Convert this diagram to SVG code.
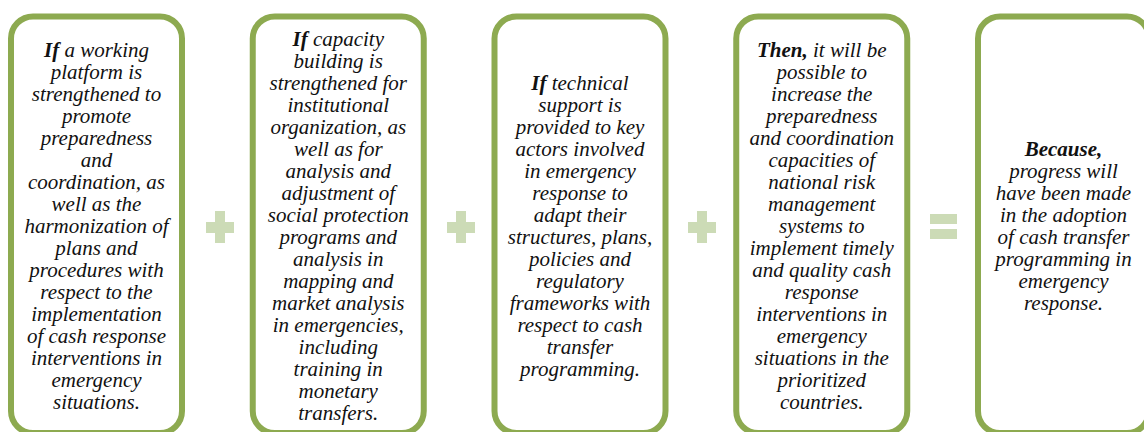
<svg xmlns="http://www.w3.org/2000/svg" width="1144" height="432" viewBox="0 0 1144 432">
<style>
.box{fill:#fff;stroke:#8DAA50;stroke-width:6}
.sign{fill:#CCDBB6}
</style>
<rect width="1144" height="432" fill="#fff"/>
<g id="connectors">
  <g id="plus1" class="sign"><rect x="206" y="222" width="28" height="11"/><rect x="215" y="211" width="10" height="32"/></g>
  <g id="plus2" class="sign"><rect x="447" y="222" width="28" height="11"/><rect x="456" y="211" width="10" height="32"/></g>
  <g id="plus3" class="sign"><rect x="688" y="222" width="28" height="11"/><rect x="697" y="211" width="10" height="32"/></g>
  <g id="equals" class="sign"><rect x="930" y="214" width="27" height="10"/><rect x="930" y="229" width="27" height="10"/></g>
</g>
<g id="node1">
  <rect class="box" x="11" y="16.5" width="171" height="416.5" rx="22"/>
  <text font-family="Liberation Serif" font-style="italic" font-size="21" fill="#111" text-anchor="middle" x="96.5" y="57"><tspan font-weight="bold">If</tspan> a working<tspan x="96.5" dy="22">platform is</tspan><tspan x="96.5" dy="22">strengthened to</tspan><tspan x="96.5" dy="22">promote</tspan><tspan x="96.5" dy="22">preparedness</tspan><tspan x="96.5" dy="22">and</tspan><tspan x="96.5" dy="22">coordination, as</tspan><tspan x="96.5" dy="22">well as the</tspan><tspan x="96.5" dy="22">harmonization of</tspan><tspan x="96.5" dy="22">plans and</tspan><tspan x="96.5" dy="22">procedures with</tspan><tspan x="96.5" dy="22">respect to the</tspan><tspan x="96.5" dy="22">implementation</tspan><tspan x="96.5" dy="22">of cash response</tspan><tspan x="96.5" dy="22">interventions in</tspan><tspan x="96.5" dy="22">emergency</tspan><tspan x="96.5" dy="22">situations.</tspan></text>
</g>
<g id="node2">
  <rect class="box" x="252.75" y="16.5" width="171" height="416.5" rx="22"/>
  <text font-family="Liberation Serif" font-style="italic" font-size="21" fill="#111" text-anchor="middle" x="338.25" y="46"><tspan font-weight="bold">If</tspan> capacity<tspan x="338.25" dy="22">building is</tspan><tspan x="338.25" dy="22">strengthened for</tspan><tspan x="338.25" dy="22">institutional</tspan><tspan x="338.25" dy="22">organization, as</tspan><tspan x="338.25" dy="22">well as for</tspan><tspan x="338.25" dy="22">analysis and</tspan><tspan x="338.25" dy="22">adjustment of</tspan><tspan x="338.25" dy="22">social protection</tspan><tspan x="338.25" dy="22">programs and</tspan><tspan x="338.25" dy="22">analysis in</tspan><tspan x="338.25" dy="22">mapping and</tspan><tspan x="338.25" dy="22">market analysis</tspan><tspan x="338.25" dy="22">in emergencies,</tspan><tspan x="338.25" dy="22">including</tspan><tspan x="338.25" dy="22">training in</tspan><tspan x="338.25" dy="22">monetary</tspan><tspan x="338.25" dy="22">transfers.</tspan></text>
</g>
<g id="node3">
  <rect class="box" x="494.5" y="16.5" width="171" height="416.5" rx="22"/>
  <text font-family="Liberation Serif" font-style="italic" font-size="21" fill="#111" text-anchor="middle" x="580" y="90"><tspan font-weight="bold">If</tspan> technical<tspan x="580" dy="22">support is</tspan><tspan x="580" dy="22">provided to key</tspan><tspan x="580" dy="22">actors involved</tspan><tspan x="580" dy="22">in emergency</tspan><tspan x="580" dy="22">response to</tspan><tspan x="580" dy="22">adapt their</tspan><tspan x="580" dy="22">structures, plans,</tspan><tspan x="580" dy="22">policies and</tspan><tspan x="580" dy="22">regulatory</tspan><tspan x="580" dy="22">frameworks with</tspan><tspan x="580" dy="22">respect to cash</tspan><tspan x="580" dy="22">transfer</tspan><tspan x="580" dy="22">programming.</tspan></text>
</g>
<g id="node4">
  <rect class="box" x="736.25" y="16.5" width="171" height="416.5" rx="22"/>
  <text font-family="Liberation Serif" font-style="italic" font-size="21" fill="#111" text-anchor="middle" x="821.75" y="57"><tspan font-weight="bold">Then,</tspan> it will be<tspan x="821.75" dy="22">possible to</tspan><tspan x="821.75" dy="22">increase the</tspan><tspan x="821.75" dy="22">preparedness</tspan><tspan x="821.75" dy="22">and coordination</tspan><tspan x="821.75" dy="22">capacities of</tspan><tspan x="821.75" dy="22">national risk</tspan><tspan x="821.75" dy="22">management</tspan><tspan x="821.75" dy="22">systems to</tspan><tspan x="821.75" dy="22">implement timely</tspan><tspan x="821.75" dy="22">and quality cash</tspan><tspan x="821.75" dy="22">response</tspan><tspan x="821.75" dy="22">interventions in</tspan><tspan x="821.75" dy="22">emergency</tspan><tspan x="821.75" dy="22">situations in the</tspan><tspan x="821.75" dy="22">prioritized</tspan><tspan x="821.75" dy="22">countries.</tspan></text>
</g>
<g id="node5">
  <rect class="box" x="978" y="16.5" width="171" height="416.5" rx="22"/>
  <text font-family="Liberation Serif" font-style="italic" font-size="21" fill="#111" text-anchor="middle" x="1063.5" y="156"><tspan font-weight="bold">Because,</tspan><tspan x="1063.5" dy="22">progress will</tspan><tspan x="1063.5" dy="22">have been made</tspan><tspan x="1063.5" dy="22">in the adoption</tspan><tspan x="1063.5" dy="22">of cash transfer</tspan><tspan x="1063.5" dy="22">programming in</tspan><tspan x="1063.5" dy="22">emergency</tspan><tspan x="1063.5" dy="22">response.</tspan></text>
</g>
</svg>
